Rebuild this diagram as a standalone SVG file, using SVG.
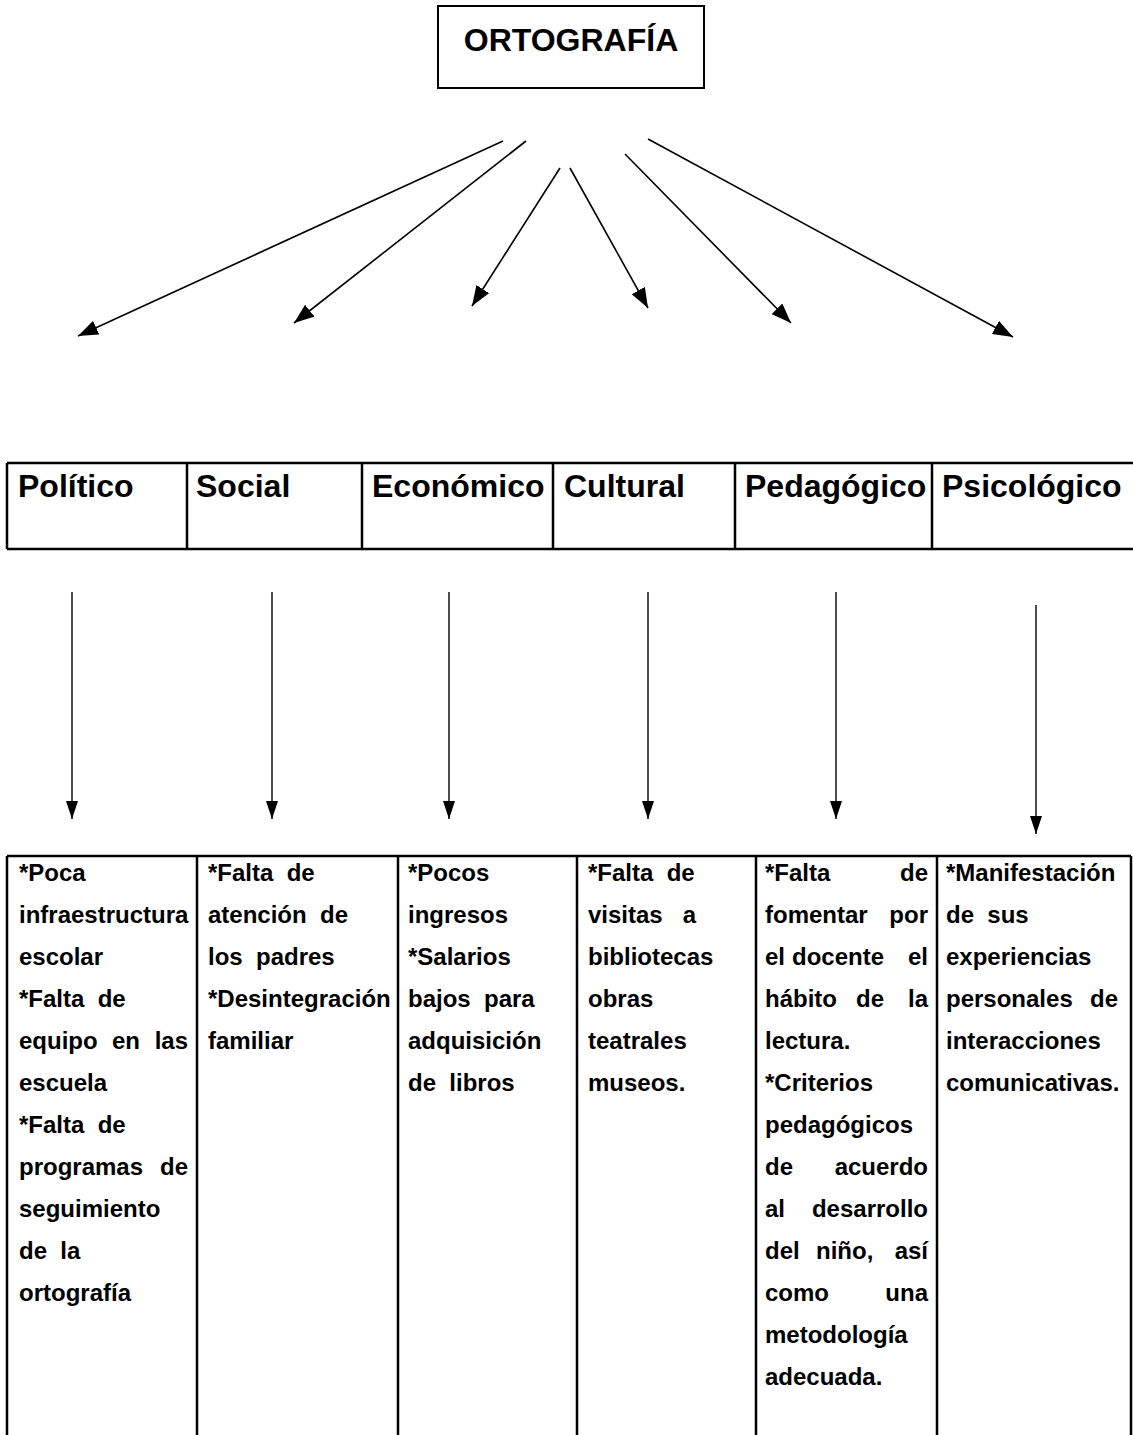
<svg xmlns="http://www.w3.org/2000/svg" width="1133" height="1435" viewBox="0 0 1133 1435">
<defs>
<marker id="ahBig" viewBox="0 0 10 10" refX="10" refY="5" markerWidth="20" markerHeight="15" markerUnits="userSpaceOnUse" orient="auto" preserveAspectRatio="none"><path d="M0,0 L10,5 L0,10 z" fill="#000"/></marker>
<marker id="ahV" viewBox="0 0 10 10" refX="10" refY="5" markerWidth="18" markerHeight="12" markerUnits="userSpaceOnUse" orient="auto" preserveAspectRatio="none"><path d="M0,0 L10,5 L0,10 z" fill="#000"/></marker>
</defs>
<style>
text { font-family: "Liberation Sans", Arial, sans-serif; font-weight: bold; fill: #000; white-space: pre; }
.title { font-size: 32px; }
.hdr { font-size: 32px; }
.cell { font-size: 24px; }
.box { fill: #fff; stroke: #000; stroke-width: 2; }
.rule { stroke: #000; stroke-width: 2.5; fill: none; }
.diag { stroke: #000; stroke-width: 1.6; fill: none; marker-end: url(#ahBig); }
.vert { stroke: #000; stroke-width: 1.4; fill: none; marker-end: url(#ahV); }
.end { text-anchor: end; }
</style>
<rect width="1133" height="1435" fill="#fff"/>

<g id="ortografia">
<rect class="box" x="438" y="6" width="266" height="82"/>
<text class="title" x="571" y="51" text-anchor="middle">ORTOGRAFÍA</text>
</g>

<g id="connectors">
<line class="diag" x1="503" y1="141" x2="78" y2="336"/>
<line class="diag" x1="526" y1="141" x2="294" y2="323"/>
<line class="diag" x1="560" y1="168" x2="472" y2="306"/>
<line class="diag" x1="570" y1="168" x2="648" y2="308"/>
<line class="diag" x1="625" y1="154" x2="791" y2="323"/>
<line class="diag" x1="648" y1="139" x2="1013" y2="337"/>
<line class="vert" x1="72" y1="592" x2="72" y2="819"/>
<line class="vert" x1="272" y1="592" x2="272" y2="819"/>
<line class="vert" x1="449" y1="592" x2="449" y2="819"/>
<line class="vert" x1="648" y1="592" x2="648" y2="819"/>
<line class="vert" x1="836" y1="592" x2="836" y2="819"/>
<line class="vert" x1="1036" y1="605" x2="1036" y2="834"/>
</g>

<g id="header-table">
<path class="rule" d="M7,463 H1133 M7,549 H1133 M7,463 V549 M187,463 V549 M362,463 V549 M553,463 V549 M735,463 V549 M932,463 V549"/>
</g>
<g id="politico"><text class="hdr" x="18" y="497">Político</text></g>
<g id="social"><text class="hdr" x="196" y="497">Social</text></g>
<g id="economico"><text class="hdr" x="372" y="497">Económico</text></g>
<g id="cultural"><text class="hdr" x="564" y="497">Cultural</text></g>
<g id="pedagogico"><text class="hdr" x="745" y="497">Pedagógico</text></g>
<g id="psicologico"><text class="hdr" x="942" y="497">Psicológico</text></g>

<g id="detail-table">
<path class="rule" d="M7,856 H1131 M7,856 V1435 M197,856 V1435 M398,856 V1435 M577,856 V1435 M756,856 V1435 M937,856 V1435 M1131,856 V1435"/>
</g>

<g id="politico-detail">
<text class="cell" x="19" y="881">*Poca</text>
<text class="cell" x="19" y="923">infraestructura</text>
<text class="cell" x="19" y="965">escolar</text>
<text class="cell" x="19" y="1007">*Falta  de</text>
<text class="cell" x="19" y="1049">equipo</text><text class="cell" x="112" y="1049">en</text><text class="cell end" x="188" y="1049">las</text>
<text class="cell" x="19" y="1091">escuela</text>
<text class="cell" x="19" y="1133">*Falta  de</text>
<text class="cell" x="19" y="1175">programas</text><text class="cell end" x="188" y="1175">de</text>
<text class="cell" x="19" y="1217">seguimiento</text>
<text class="cell" x="19" y="1259">de  la</text>
<text class="cell" x="19" y="1301">ortografía</text>
</g>

<g id="social-detail">
<text class="cell" x="208" y="881">*Falta  de</text>
<text class="cell" x="208" y="923">atención  de</text>
<text class="cell" x="208" y="965">los  padres</text>
<text class="cell" x="208" y="1007">*Desintegración</text>
<text class="cell" x="208" y="1049">familiar</text>
</g>

<g id="economico-detail">
<text class="cell" x="408" y="881">*Pocos</text>
<text class="cell" x="408" y="923">ingresos</text>
<text class="cell" x="408" y="965">*Salarios</text>
<text class="cell" x="408" y="1007">bajos  para</text>
<text class="cell" x="408" y="1049">adquisición</text>
<text class="cell" x="408" y="1091">de  libros</text>
</g>

<g id="cultural-detail">
<text class="cell" x="588" y="881">*Falta  de</text>
<text class="cell" x="588" y="923">visitas   a</text>
<text class="cell" x="588" y="965">bibliotecas</text>
<text class="cell" x="588" y="1007">obras</text>
<text class="cell" x="588" y="1049">teatrales</text>
<text class="cell" x="588" y="1091">museos.</text>
</g>

<g id="pedagogico-detail">
<text class="cell" x="765" y="881">*Falta</text><text class="cell end" x="928" y="881">de</text>
<text class="cell" x="765" y="923">fomentar</text><text class="cell end" x="928" y="923">por</text>
<text class="cell" x="765" y="965">el</text><text class="cell" x="792" y="965">docente</text><text class="cell end" x="928" y="965">el</text>
<text class="cell" x="765" y="1007">hábito</text><text class="cell" x="856" y="1007">de</text><text class="cell end" x="928" y="1007">la</text>
<text class="cell" x="765" y="1049">lectura.</text>
<text class="cell" x="765" y="1091">*Criterios</text>
<text class="cell" x="765" y="1133">pedagógicos</text>
<text class="cell" x="765" y="1175">de</text><text class="cell end" x="928" y="1175">acuerdo</text>
<text class="cell" x="765" y="1217">al</text><text class="cell end" x="928" y="1217">desarrollo</text>
<text class="cell" x="765" y="1259">del</text><text class="cell" x="816" y="1259">niño,</text><text class="cell end" x="928" y="1259">así</text>
<text class="cell" x="765" y="1301">como</text><text class="cell end" x="928" y="1301">una</text>
<text class="cell" x="765" y="1343">metodología</text>
<text class="cell" x="765" y="1385">adecuada.</text>
</g>

<g id="psicologico-detail">
<text class="cell" x="946" y="881">*Manifestación</text>
<text class="cell" x="946" y="923">de  sus</text>
<text class="cell" x="946" y="965">experiencias</text>
<text class="cell" x="946" y="1007">personales</text><text class="cell end" x="1118" y="1007">de</text>
<text class="cell" x="946" y="1049">interacciones</text>
<text class="cell" x="946" y="1091">comunicativas.</text>
</g>
</svg>
